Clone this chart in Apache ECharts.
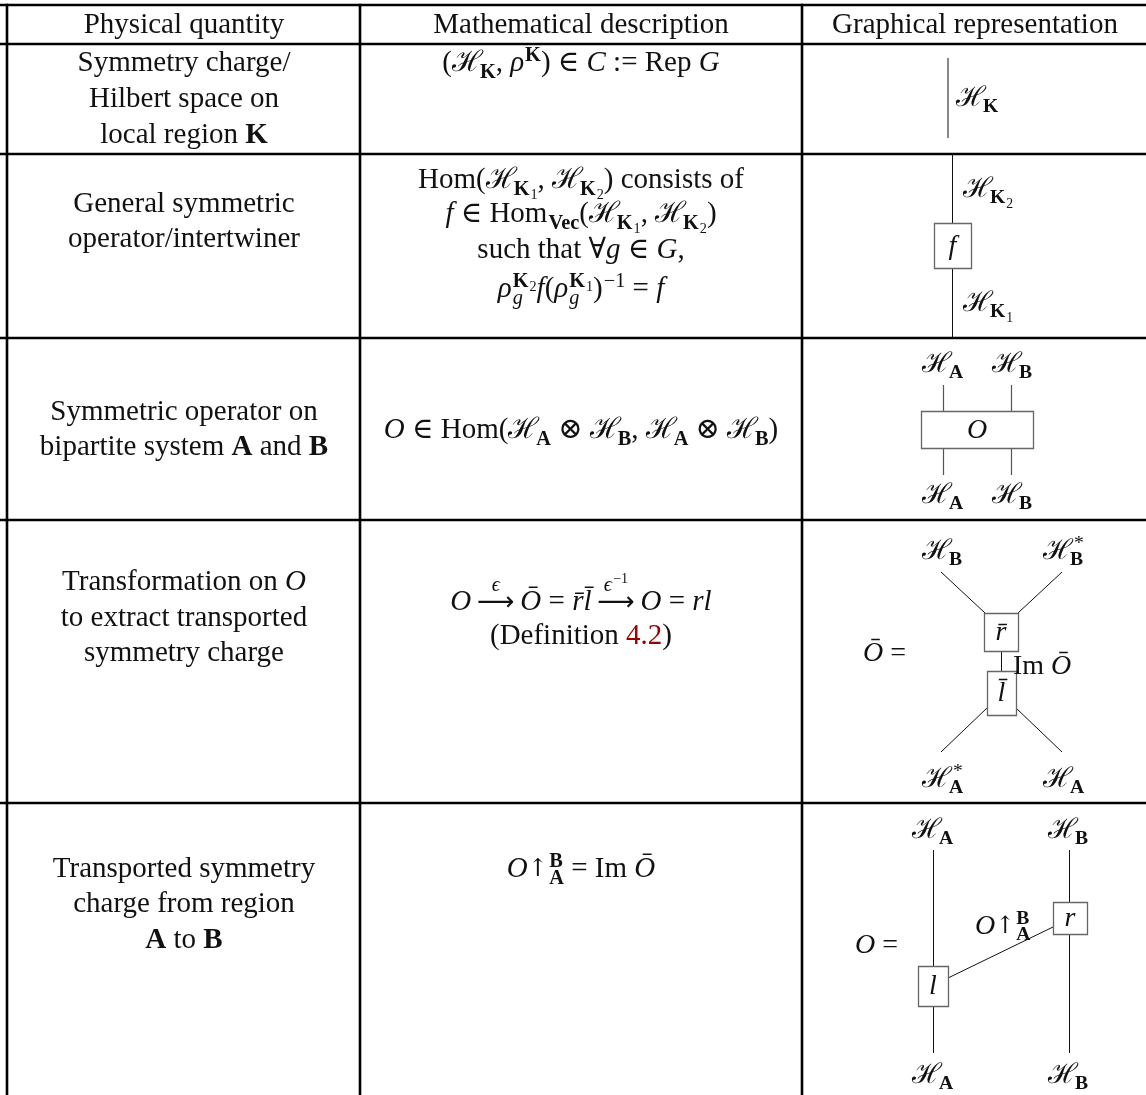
<!DOCTYPE html>
<html>
<head>
<meta charset="utf-8">
<script src="https://cdn.jsdelivr.net/npm/echarts@6/dist/echarts.min.js"></script>
<style>
  html, body { margin: 0; padding: 0; background: #fff; }
  #main { width: 1146px; height: 1095px; }
</style>
</head>
<body>
<div id="main"></div>
<script>
// 小工具：公式片段
const R = t => ({ t: t, s: 'r' });
const I = t => ({ t: t, s: 'i' });
const B = t => ({ t: t, s: 'b' });
const H = (sub, sup) => ({ t: 'ℋ', s: 'r', sub: sub, sup: sup, sk: -0.14 });
const ARR = over => ({ t: '⟶', s: 'L', over: over });
const K1 = { t: 'K', s: 'b', sub: [R('1')] };
const K2 = { t: 'K', s: 'b', sub: [R('2')] };

// 表头
const headers = ['Physical quantity', 'Mathematical description', 'Graphical representation'];

// 第一列：物理量
const quantityLines = [
  [[R('Symmetry charge/')], [R('Hilbert space on')], [R('local region '), B('K')]],
  [[R('General symmetric')], [R('operator/intertwiner')]],
  [[R('Symmetric operator on')], [R('bipartite system '), B('A'), R(' and '), B('B')]],
  [[R('Transformation on '), I('O')], [R('to extract transported')], [R('symmetry charge')]],
  [[R('Transported symmetry')], [R('charge from region')], [B('A'), R(' to '), B('B')]]
];

// 第二列：数学描述
const descriptionLines = [
  [[R('('), H([B('K')]), R(', '), { t: 'ρ', s: 'i', sup: [B('K')] }, R(') ∈ '), I('C'), R(' := Rep '), I('G')]],
  [
    [R('Hom('), H([K1]), R(', '), H([K2]), R(') consists of')],
    [I('f'), R(' ∈ '), { t: 'Hom', s: 'r', sub: [B('Vec')] }, R('('), H([K1]), R(', '), H([K2]), R(')')],
    [R('such that ∀'), I('g'), R(' ∈ '), I('G'), R(',')],
    [{ t: 'ρ', s: 'i', sup: [K2], sub: [I('g')] }, I('f'), R('('), { t: 'ρ', s: 'i', sup: [K1], sub: [I('g')] },
     { t: ')', s: 'r', sup: [R('−1')] }, R(' = '), I('f')]
  ],
  [[I('O'), R(' ∈ Hom('), H([B('A')]), R(' ⊗ '), H([B('B')]), R(', '), H([B('A')]), R(' ⊗ '), H([B('B')]), R(')')]],
  [
    [I('O'), R('\u2009'), ARR([I('ϵ')]), R('\u2009'), I('Ō'), R(' = '), I('r̄l̄'), R('\u2009'),
     ARR([{ t: 'ϵ', s: 'i', sup: [R('−1')] }]), R('\u2009'), I('O'), R(' = '), I('rl')],
    [R('(Definition '), { t: '4.2', s: 'r', c: '#990000' }, R(')')]
  ],
  [[I('O'), { t: '↑', s: 'a', sup: [B('B')], sub: [B('A')] }, R(' = Im '), I('Ō')]]
];

// 第三列：图示标签
const diagramLabels = {
  HK: [H([B('K')])],
  HK1: [H([K1])],
  HK2: [H([K2])],
  HA: [H([B('A')])],
  HB: [H([B('B')])],
  HAs: [H([B('A')], [R('*')])],
  HBs: [H([B('B')], [R('*')])],
  Obar: [I('Ō'), R(' =')],
  ImO: [R('Im '), I('Ō')],
  Oeq: [I('O'), R(' =')],
  Otr: [I('O'), { t: '↑', s: 'a', sup: [B('B')], sub: [B('A')] }]
};
const boxLabels = { f: 'f', O: 'O', rbar: 'r̄', lbar: 'l̄', l: 'l', r: 'r' };

// 表格网格
const rowLines = [5, 44, 154, 338, 520, 803];
const colLines = [7, 360, 802];
const colCenters = [184, 581, 975];
const quantityBase = [[71, 107, 143], [212, 247], [420, 455], [590, 626, 661], [877, 912, 948]];
const descriptionBase = [[71], [188, 222, 258, 297], [438], [610, 644], [877]];

const FONT = "'Liberation Serif', 'DejaVu Serif', serif";
const ARROW_FONT = "'DejaVu Serif', serif";
const LONG_ARROW_FONT = "'DejaVu Sans', 'DejaVu Serif', sans-serif";
const TXT = 29;
const LBL = 28;
const ctx = document.createElement('canvas').getContext('2d');

function fontStr(st, size) {
  if (st === 'a') return (size * 0.85).toFixed(1) + 'px ' + ARROW_FONT;
  if (st === 'L') return (size * 0.9).toFixed(1) + 'px ' + LONG_ARROW_FONT;
  return (st.indexOf('i') >= 0 ? 'italic ' : '') + (st.indexOf('b') >= 0 ? 'bold ' : '') + size.toFixed(1) + 'px ' + FONT;
}

// 简单排版：上下标、上方标注
function layout(atoms, size) {
  let x = 0;
  const pieces = [];
  atoms.forEach(a => {
    const f = fontStr(a.s || 'r', size);
    ctx.font = f;
    const w = a.t ? ctx.measureText(a.t).width : 0;
    if (a.t) pieces.push({ x: x, dy: (a.dy || 0) * size, text: a.t, font: f, size: size, c: a.c });
    const ss = size * 0.7;
    let sw = 0;
    if (a.sup) {
      const L = layout(a.sup, ss);
      L.pieces.forEach(p => pieces.push(Object.assign({}, p, { x: p.x + x + w + 1, dy: p.dy - size * 0.36 })));
      sw = L.w + 1;
    }
    if (a.sub) {
      const kx = (a.sk || 0) * size;
      const L = layout(a.sub, ss);
      L.pieces.forEach(p => pieces.push(Object.assign({}, p, { x: p.x + x + w + 1 + kx, dy: p.dy + size * 0.22 })));
      sw = Math.max(sw, L.w + 1 + kx);
    }
    if (a.over) {
      const L = layout(a.over, ss);
      const ox = x + (w - L.w) / 2;
      L.pieces.forEach(p => pieces.push(Object.assign({}, p, { x: p.x + ox, dy: p.dy - size * 0.68 })));
    }
    x += w + sw;
  });
  return { w: x, pieces: pieces };
}

// 元素列表
const elements = [];
const line = (x1, y1, x2, y2, w, c) => elements.push({ type: 'line', p: [x1, y1, x2, y2], w: w, c: c });
const box = (x, y, w, h, label) => elements.push({ type: 'rect', p: [x, y, w, h], label: label });
const math = (atoms, x, base, align, size) => elements.push({ type: 'math', atoms: atoms, x: x, base: base, align: align, size: size });

// 表格线
rowLines.forEach(y => line(0, y, 1146, y, 2.6, '#000'));
colLines.forEach(x => line(x, rowLines[0] - 1.3, x, 1095, 2.6, '#000'));

// 表头与正文
headers.forEach((h, i) => math([R(h)], colCenters[i], 33, 'center', TXT));
quantityLines.forEach((rows, r) => rows.forEach((ln, j) => math(ln, colCenters[0], quantityBase[r][j], 'center', TXT)));
descriptionLines.forEach((rows, r) => rows.forEach((ln, j) => math(ln, colCenters[1], descriptionBase[r][j], 'center', TXT)));

// 图示 第1行
line(948, 58, 948, 138, 1, '#111');
math(diagramLabels.HK, 956, 106, 'left', LBL);
// 第2行
line(952.5, 154, 952.5, 338, 1, '#111');
box(934, 223, 37, 45, boxLabels.f);
math(diagramLabels.HK2, 963, 197, 'left', LBL);
math(diagramLabels.HK1, 963, 311, 'left', LBL);
// 第3行
line(943.5, 385, 943.5, 475, 1.2, '#555');
line(1011.5, 385, 1011.5, 475, 1.2, '#555');
box(921, 411, 112, 37, boxLabels.O);
math(diagramLabels.HA, 922, 372, 'left', LBL);
math(diagramLabels.HB, 992, 372, 'left', LBL);
math(diagramLabels.HA, 922, 503, 'left', LBL);
math(diagramLabels.HB, 992, 503, 'left', LBL);
// 第4行
line(941, 572, 985, 613, 1, '#111');
line(1062, 572, 1018, 613, 1, '#111');
line(1001.5, 651, 1001.5, 671, 1, '#111');
line(987, 708, 941, 752, 1, '#111');
line(1016, 708, 1062, 752, 1, '#111');
box(984, 613, 34, 38, boxLabels.rbar);
box(987, 671, 29, 44, boxLabels.lbar);
math(diagramLabels.HB, 922, 559, 'left', LBL);
math(diagramLabels.HBs, 1043, 559, 'left', LBL);
math(diagramLabels.HAs, 922, 787, 'left', LBL);
math(diagramLabels.HA, 1043, 787, 'left', LBL);
math(diagramLabels.Obar, 863, 661, 'left', LBL);
math(diagramLabels.ImO, 1013, 674, 'left', LBL);
// 第5行
line(933.5, 850, 933.5, 1053, 1, '#111');
line(1069.5, 850, 1069.5, 1053, 1, '#111');
line(948, 978, 1053, 927, 1, '#111');
box(918, 966, 30, 40, boxLabels.l);
box(1053, 902, 34, 32, boxLabels.r);
math(diagramLabels.HA, 912, 838, 'left', LBL);
math(diagramLabels.HB, 1048, 838, 'left', LBL);
math(diagramLabels.HA, 912, 1083, 'left', LBL);
math(diagramLabels.HB, 1048, 1083, 'left', LBL);
math(diagramLabels.Oeq, 855, 953, 'left', LBL);
math(diagramLabels.Otr, 975, 934, 'left', LBL);

function renderItem(params, api) {
  const e = elements[params.dataIndex];
  if (e.type === 'line') {
    const a = api.coord([e.p[0], e.p[1]]);
    const b = api.coord([e.p[2], e.p[3]]);
    return { type: 'line', shape: { x1: a[0], y1: a[1], x2: b[0], y2: b[1] }, style: { stroke: e.c, lineWidth: e.w } };
  }
  if (e.type === 'rect') {
    const a = api.coord([e.p[0], e.p[1]]);
    const b = api.coord([e.p[0] + e.p[2], e.p[1] + e.p[3]]);
    return {
      type: 'group',
      children: [
        { type: 'rect', shape: { x: a[0] + 0.5, y: a[1] + 0.5, width: b[0] - a[0], height: b[1] - a[1] }, style: { fill: '#fff', stroke: '#666', lineWidth: 1.3 } },
        { type: 'text', style: { text: e.label, x: (a[0] + b[0]) / 2, y: (a[1] + b[1]) / 2 + 1, font: fontStr('i', LBL), fill: '#111', align: 'center', verticalAlign: 'middle' } }
      ]
    };
  }
  const L = layout(e.atoms, e.size);
  const x0 = e.align === 'left' ? e.x : e.x - L.w / 2;
  return {
    type: 'group',
    children: L.pieces.map(p => {
      const c = api.coord([x0 + p.x, e.base + p.dy]);
      return { type: 'text', style: { text: p.text, x: c[0], y: c[1] - p.size * 0.25, font: p.font, fill: p.c || '#111', align: 'left', verticalAlign: 'middle' } };
    })
  };
}

const chart = echarts.init(document.getElementById('main'));
chart.setOption({
  animation: false,
  grid: { left: 0, right: 0, top: 0, bottom: 0 },
  xAxis: { type: 'value', min: 0, max: 1146, show: false },
  yAxis: { type: 'value', min: 0, max: 1095, inverse: true, show: false },
  series: [{
    type: 'custom',
    coordinateSystem: 'cartesian2d',
    clip: false,
    silent: true,
    renderItem: renderItem,
    data: elements.map((e, i) => [i, 0])
  }]
});
window.addEventListener('resize', () => { chart.resize(); });
</script>
</body>
</html>
